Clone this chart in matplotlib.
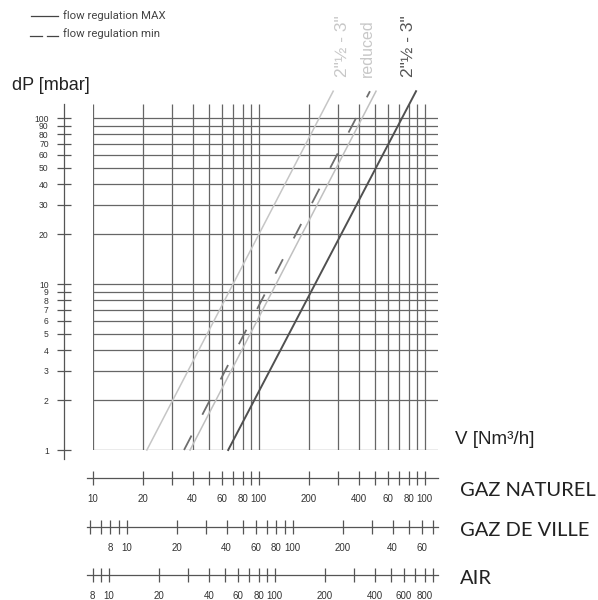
import numpy as np
import matplotlib
matplotlib.use('Agg')
import matplotlib.pyplot as plt
from matplotlib.lines import Line2D
from matplotlib.ticker import NullLocator

# pressure drop values where the curves start and end (mbar)
dp_ends = [1, 145]
# flow (Nm3/h, natural gas scale) read at those two pressures
v_max = [21.2, 281]          # 2"1/2 - 3" reduced, flow regulation MAX (light)
v_red_max = [38.6, 509]      # 2"1/2 - 3" reduced MAX (light, thin)
v_red_min = [35.5, 468]      # 2"1/2 - 3" reduced min (dashed)
v_full = [65.5, 887]         # 2"1/2 - 3" (dark)

grid_v = [10, 20, 30, 40, 50, 60, 70, 80, 90, 100,
          200, 300, 400, 500, 600, 700, 800, 900, 1000]
grid_dp = [1, 2, 3, 4, 5, 6, 7, 8, 9, 10, 20, 30, 40, 50, 60, 70, 80, 90, 100]

nat_ticks = [10, 20, 30, 40, 50, 60, 70, 80, 90, 100,
             200, 300, 400, 500, 600, 700, 800, 900, 1000]
nat_labels = {10: '10', 20: '20', 40: '40', 60: '60', 80: '80', 100: '100',
              200: '200', 400: '400', 600: '60', 800: '80', 1000: '100'}
ville_ticks = [6, 7, 8, 9, 10, 20, 30, 40, 50, 60, 70, 80, 90, 100,
               200, 300, 400, 500, 600, 700]
ville_labels = {8: '8', 10: '10', 20: '20', 40: '40', 60: '60', 80: '80',
                100: '100', 200: '200', 400: '40', 600: '60'}
air_ticks = [8, 9, 10, 20, 30, 40, 50, 60, 70, 80, 90, 100,
             200, 300, 400, 500, 600, 700, 800, 900]
air_labels = {8: '8', 10: '10', 20: '20', 40: '40', 60: '60', 80: '80',
              100: '100', 200: '200', 400: '400', 600: '600', 800: '800'}
# conversion of each scale to the natural gas flow
scale_factor = {'GAZ NATUREL': 1.0, 'GAZ DE VILLE': 1.6, 'AIR': 1.25}

W, H = 598, 600
DEC = 166.0  # pixels per decade


def fx(x):
    return x / W


def fy(y):
    return 1 - y / H


plt.rcParams['font.family'] = ['Liberation Sans', 'DejaVu Sans']
fig = plt.figure(figsize=(W / 100, H / 100), dpi=100)

x0, x1 = 92.7, 438
y0, y1 = 450, 90
xmax = 10 * 10 ** ((x1 - x0) / DEC)
ymax = 10 ** ((y0 - y1) / DEC)

ax = fig.add_axes([fx(x0), fy(y0), (x1 - x0) / W, (y0 - y1) / H])
ax.set_xscale('log')
ax.set_yscale('log')
ax.set_xlim(10, xmax)
ax.set_ylim(1, ymax)
ax.axis('off')

gcol = '#666666'
top_grid = 10 ** ((y0 - 104) / DEC)
ax.vlines(grid_v, 1, top_grid, color=gcol, lw=0.9)
ax.hlines(grid_dp, 10, xmax, color=gcol, lw=0.9)

ax.plot(v_max, dp_ends, color='#c6c6c6', lw=1.1, clip_on=False)
ax.plot(v_red_max, dp_ends, color='#c0c0c0', lw=1.1, clip_on=False)
ax.plot(v_red_min, dp_ends, color='#6e6e6e', lw=1.3, dashes=(9, 13), clip_on=False)
ax.plot(v_full, dp_ends, color='#505050', lw=1.4, clip_on=False)

# separate dP scale on the left
ay = fig.add_axes([fx(64), fy(y0), 0.02, (y0 - y1) / H])
ay.set_yscale('log')
ay.set_ylim(1, ymax)
for s in ay.spines.values():
    s.set_visible(False)
ay.set_xticks([])
ay.plot([0, 0], [10 ** ((y0 - 459) / DEC), top_grid], color='#555555', lw=0.9,
        transform=ay.get_yaxis_transform(), clip_on=False)
ay.yaxis.set_minor_locator(NullLocator())
ay.set_yticks(grid_dp, [str(v) for v in grid_dp])
ay.tick_params(axis='y', direction='inout', length=10, width=0.9, color='#555555',
               labelsize=6.2, labelcolor='#333333', pad=6)
ay.patch.set_alpha(0)

# flow scales at the bottom
vl = 10 * 10 ** ((87 - x0) / DEC)
rows = [('GAZ NATUREL', 478, nat_ticks, nat_labels),
        ('GAZ DE VILLE', 527, ville_ticks, ville_labels),
        ('AIR', 575, air_ticks, air_labels)]
for name, yl, ticks, labels in rows:
    f = scale_factor[name]
    b = fig.add_axes([fx(87), fy(yl), (x1 - 87) / W, 0.0001])
    b.set_xscale('log')
    b.set_xlim(vl / f, xmax / f)
    for k, s in b.spines.items():
        s.set_visible(k == 'bottom')
    b.spines['bottom'].set_color('#555555')
    b.spines['bottom'].set_linewidth(0.9)
    b.set_yticks([])
    b.xaxis.set_minor_locator(NullLocator())
    b.set_xticks(ticks, [labels.get(t, '') for t in ticks])
    b.tick_params(axis='x', direction='inout', length=10, width=0.9, color='#555555',
                  labelsize=7, labelcolor='#333333', pad=6.5)
    b.patch.set_alpha(0)
    fig.text(fx(460), fy(yl + 13 if name == 'GAZ NATUREL' else yl + 4), name,
             fontsize=14.5, family=['Lato', 'DejaVu Sans'], color='#222222',
             va='center', ha='left')

# axis titles
fig.text(fx(12), fy(85), 'dP [mbar]', fontsize=13, color='#222222', va='center')
fig.text(fx(455), fy(440), 'V [Nm³/h]', fontsize=13.5, color='#222222', va='center')

# curve labels
fig.text(fx(342), fy(77), '2"½ - 3"', rotation=90, fontsize=12.5, color='#c8c8c8',
         ha='center', va='bottom')
fig.text(fx(367), fy(77), 'reduced', rotation=90, fontsize=11.5, color='#c8c8c8',
         ha='center', va='bottom')
fig.text(fx(408), fy(77), '2"½ - 3"', rotation=90, fontsize=12.5, color='#555555',
         ha='center', va='bottom')

# legend
fig.add_artist(Line2D([fx(31), fx(58)], [fy(16), fy(16)], color='#444444', lw=0.9))
fig.add_artist(Line2D([fx(30), fx(42)], [fy(36), fy(36)], color='#444444', lw=0.9))
fig.add_artist(Line2D([fx(47), fx(58)], [fy(36), fy(36)], color='#444444', lw=0.9))
fig.text(fx(63), fy(16), 'flow regulation MAX', fontsize=8.2, family=['Roboto', 'DejaVu Sans'],
         color='#444444', va='center')
fig.text(fx(63), fy(34), 'flow regulation min', fontsize=8.2, family=['Roboto', 'DejaVu Sans'],
         color='#444444', va='center')

fig.savefig('out.png', dpi=100)
